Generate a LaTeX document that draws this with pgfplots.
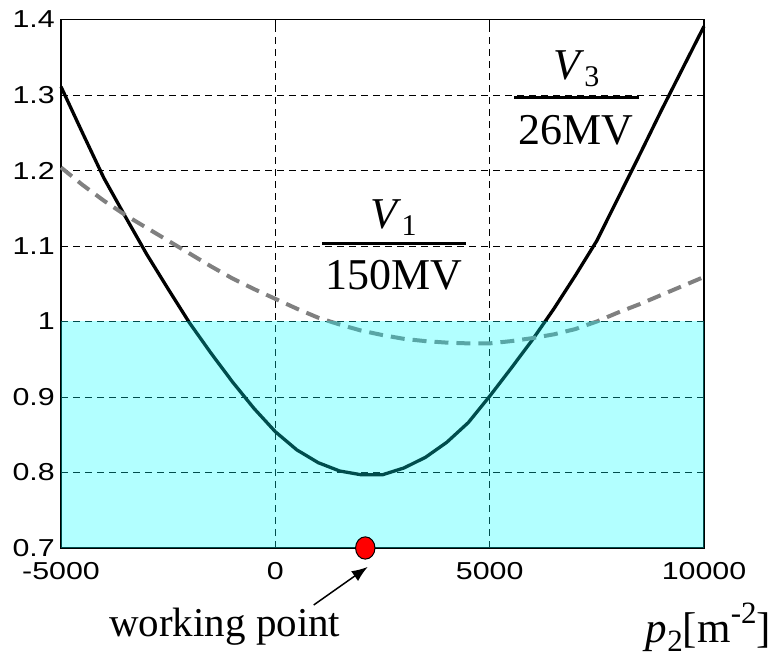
\documentclass[border=0pt]{standalone}
\usepackage{fontspec}
\setmainfont{Liberation Serif}
\newfontfamily\arialf{Liberation Sans}
\usepackage{graphicx}
\usepackage{pgfplots}
\pgfplotsset{compat=1.18}
\usetikzlibrary{arrows.meta}
\definecolor{cyanfill}{RGB}{0,255,255}
\definecolor{curvegrey}{RGB}{128,128,128}
\newcommand{\tl}[1]{\scalebox{1.24}[1]{#1}}
\begin{document}
\begin{tikzpicture}
\begin{axis}[
  scale only axis, width=643pt, height=528.5pt,
  xmin=-5000, xmax=10000, ymin=0.7, ymax=1.4,
  scaled x ticks=false, scaled y ticks=false,
  xtick={-5000,0,5000,10000},
  xticklabels={\tl{-5000},\tl{0},\tl{5000},\tl{10000}},
  ytick={0.7,0.8,0.9,1.0,1.1,1.2,1.3,1.4},
  yticklabels={\tl{0.7},\tl{0.8},\tl{0.9},\tl{1},\tl{1.1},\tl{1.2},\tl{1.3},\tl{1.4}},
  tick label style={font=\arialf\fontsize{24.5}{29}\selectfont, inner sep=0pt},
  yticklabel style={xshift=-6pt},
  xticklabel style={yshift=-14pt},
  tick align=inside, major tick length=6pt,
  tick style={black, line width=0.8pt},
  grid=major,
  major grid style={black, line width=0.8pt, dash pattern=on 7pt off 5pt},
  axis line style={black, line width=1.2pt},
  clip=false,
]
\addplot[black, line width=3.3pt] coordinates {
(-5000,1.311) (-4500,1.250) (-4000,1.190) (-3500,1.139) (-3000,1.089)
(-2500,1.043) (-2000,0.998) (-1500,0.958) (-1000,0.920) (-500,0.885)
(0,0.854) (500,0.830) (1000,0.813) (1500,0.802) (2000,0.797) (2500,0.797)
(3000,0.806) (3500,0.820) (4000,0.840) (4500,0.866) (5000,0.901)
(5500,0.938) (6000,0.976) (6500,1.017) (7000,1.061) (7500,1.107)
(8000,1.164) (8500,1.221) (9000,1.279) (9500,1.335) (10000,1.391)};
\addplot[curvegrey, line width=4pt, dash pattern=on 14pt off 8pt] coordinates {
(-5000,1.204) (-4500,1.181) (-4000,1.160) (-3500,1.141) (-3000,1.124)
(-2500,1.107) (-2000,1.090) (-1500,1.073) (-1000,1.057) (-500,1.043)
(0,1.030) (500,1.017) (1000,1.005) (1500,0.996) (2000,0.988) (2500,0.982)
(3000,0.977) (3500,0.974) (4000,0.972) (4500,0.971) (5000,0.971)
(5500,0.974) (6000,0.978) (6500,0.983) (7000,0.990) (7500,1.000)
(8000,1.012) (8500,1.023) (9000,1.035) (9500,1.047) (10000,1.059)};
\addplot[fill=cyanfill, fill opacity=0.3, draw=none] coordinates {
(-5000,0.7) (10000,0.7) (10000,1.0) (-5000,1.0)} -- cycle;
\addplot[only marks, mark=*, mark size=9.7pt, mark options={fill=red, draw=black, line width=1pt, yscale=1.15}] coordinates {(2098,0.7)};
% annotations
\draw[black, line width=1.5pt, -{Latex[length=16pt,width=12pt]}] (axis cs:895,0.6245) -- (axis cs:2156,0.675);
\node[anchor=base, inner sep=0pt, font=\fontsize{41}{41}\selectfont] at (axis cs:-1180,0.5834) {working point};
\node[anchor=base east, inner sep=0pt, font=\fontsize{43}{43}\selectfont] at (axis cs:11565,0.5747)
  {\textit{p}\raisebox{-9pt}{\fontsize{31}{31}\selectfont 2}[m\raisebox{19pt}{\fontsize{31}{31}\selectfont -2}]};
% V1 fraction
\fill[black] ([xshift=-72pt,yshift=-1.25pt]axis cs:2757,1.1036) rectangle ([xshift=72pt,yshift=1.25pt]axis cs:2757,1.1036);
\node[anchor=base, inner sep=0pt, font=\fontsize{44}{44}\selectfont] at ([yshift=15pt]axis cs:2757,1.1036)
  {\textit{V}\raisebox{-7pt}{\fontsize{30}{30}\selectfont 1}};
\node[anchor=north, inner sep=0pt, font=\fontsize{44}{44}\selectfont] at ([yshift=-17pt]axis cs:2757,1.1036) {150MV};
% V3 fraction
\fill[black] ([xshift=-62.5pt,yshift=-1.25pt]axis cs:7021,1.2967) rectangle ([xshift=62.5pt,yshift=1.25pt]axis cs:7021,1.2967);
\node[anchor=base, inner sep=0pt, font=\fontsize{44}{44}\selectfont] at ([yshift=17.5pt]axis cs:7021,1.2967)
  {\textit{V}\raisebox{-7pt}{\fontsize{30}{30}\selectfont 3}};
\node[anchor=north, inner sep=0pt, font=\fontsize{44}{44}\selectfont] at ([yshift=-17.5pt]axis cs:7021,1.2967) {26MV};
\end{axis}
\pgfresetboundingbox
\path[use as bounding box] ([xshift=-61pt,yshift=-110pt]current axis.south west) rectangle ([xshift=72pt,yshift=19.5pt]current axis.north east);
\end{tikzpicture}
\end{document}
